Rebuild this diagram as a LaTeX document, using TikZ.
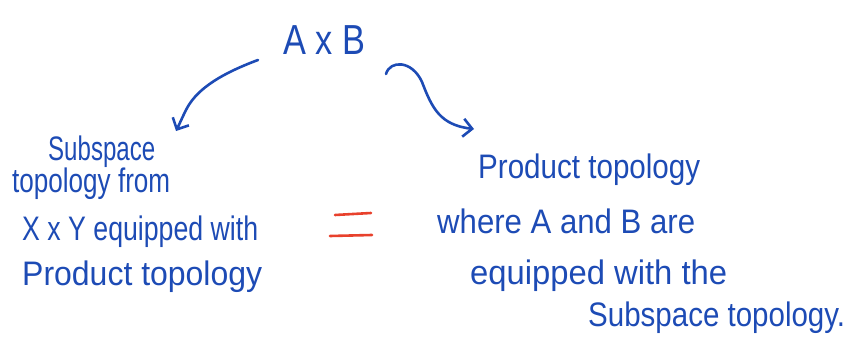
\documentclass[tikz,border=0pt]{standalone}
\usepackage{fontspec}
\setmainfont{Liberation Sans}
\usepackage{graphicx}
\usetikzlibrary{arrows.meta}
\definecolor{ink}{HTML}{1D4BB5}
\definecolor{redink}{HTML}{E8412C}
\newcommand{\fw}[2]{\resizebox{#1}{\height}{#2}}
\tikzset{
  hw/.style={text=ink, inner sep=0pt, anchor=base west, font=\fontsize{34}{34}\selectfont},
  conn/.style={draw=ink, line width=2.6pt, line cap=round, line join=round,
    -{Straight Barb[length=9pt,width=18pt,line width=2.6pt]}},
  eqline/.style={draw=redink, line width=2.6pt, line cap=round}
}
\begin{document}
\begin{tikzpicture}[x=1pt,y=-1pt]
\useasboundingbox (0,0) rectangle (850,342);
\node[hw, font=\fontsize{42}{42}\selectfont] (ab) at (283,55) {\fw{82pt}{A x B}};
% left block
\node[hw] (l1) at (48,160) {\fw{107pt}{Subspace}};
\node[hw] (l2) at (12,192) {\fw{158pt}{topology from}};
\node[hw] (l3) at (22,240) {\fw{236pt}{X x Y equipped with}};
\node[hw] (l4) at (22,285) {\fw{240pt}{Product topology}};
% right block
\node[hw] (r1) at (478,178) {\fw{222pt}{Product topology}};
\node[hw] (r2) at (437,233) {\fw{258pt}{where A and B are}};
\node[hw] (r3) at (470,284) {\fw{257pt}{equipped with the}};
\node[hw] (r4) at (588,326) {\fw{257pt}{Subspace topology.}};
% connectors
\coordinate (la) at (258,60);
\coordinate (lb) at (176,131);
\coordinate (ra) at (386,74);
\coordinate (rb) at (474,129);
\draw[conn] (la) .. controls (215,76) and (195,92) .. (186,110) .. controls (182,118) and (179,125) .. (lb);
\draw[conn] (ra) .. controls (390,60) and (412,60) .. (422,82) .. controls (432,108) and (440,125) .. (rb);
% equals
\coordinate (e1) at (335,215);
\coordinate (e2) at (371,213);
\coordinate (e3) at (330,236);
\coordinate (e4) at (372,235);
\draw[eqline] (e1) -- (e2);
\draw[eqline] (e3) -- (e4);
\end{tikzpicture}
\end{document}
